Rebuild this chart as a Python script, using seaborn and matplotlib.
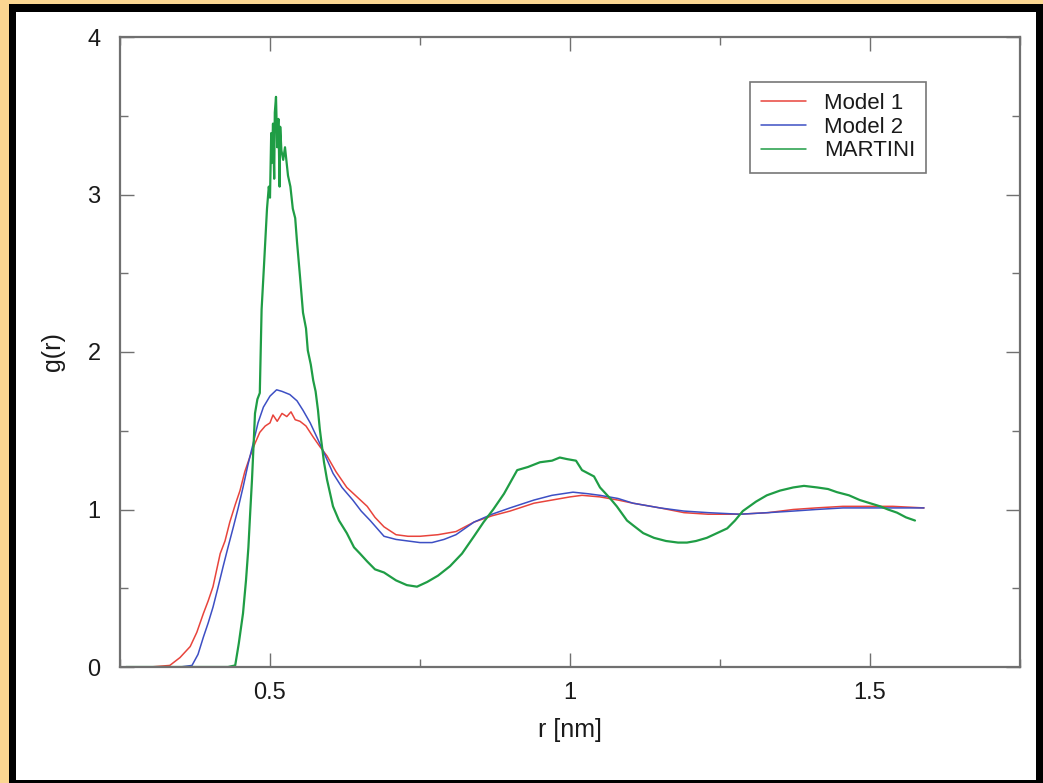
#!/usr/bin/env python
# g(r) comparison: Model 1, Model 2 and MARTINI

import numpy as np
import pandas as pd
import matplotlib
matplotlib.use("Agg")
import matplotlib.pyplot as plt
from matplotlib.patches import Rectangle
from matplotlib.ticker import FixedLocator, MultipleLocator
import seaborn as sns

sns.set_theme(style="ticks")
plt.rcParams['font.family'] = ['Liberation Sans', 'DejaVu Sans']

# Data
# ========================
r_model1 = [0.26, 0.30, 0.333, 0.35, 0.367, 0.378, 0.389, 0.397, 0.405, 0.417, 0.425, 0.433, 0.442,
            0.45, 0.458, 0.467, 0.475, 0.483, 0.492, 0.50, 0.505, 0.512, 0.52, 0.528, 0.535, 0.542,
            0.55, 0.56, 0.572, 0.583, 0.595, 0.61, 0.628, 0.645, 0.662, 0.675, 0.69, 0.71, 0.73,
            0.75, 0.78, 0.81, 0.84, 0.87, 0.90, 0.94, 0.97, 1.00, 1.02, 1.05, 1.08, 1.105, 1.15,
            1.19, 1.23, 1.283, 1.33, 1.372, 1.41, 1.455, 1.50, 1.538, 1.59]
g_model1 = [0.0, 0.0, 0.01, 0.06, 0.13, 0.22, 0.34, 0.42, 0.51, 0.72, 0.80, 0.92, 1.03,
            1.12, 1.24, 1.34, 1.42, 1.49, 1.53, 1.55, 1.60, 1.56, 1.61, 1.59, 1.62, 1.57,
            1.56, 1.53, 1.46, 1.40, 1.34, 1.24, 1.14, 1.08, 1.02, 0.95, 0.89, 0.84, 0.83,
            0.83, 0.84, 0.86, 0.92, 0.96, 0.99, 1.04, 1.06, 1.08, 1.09, 1.08, 1.06, 1.04, 1.01,
            0.98, 0.97, 0.97, 0.98, 1.00, 1.01, 1.02, 1.02, 1.02, 1.01]

r_model2 = [0.26, 0.30, 0.35, 0.37, 0.38, 0.389, 0.397, 0.405, 0.413, 0.422, 0.43, 0.439, 0.447,
            0.455, 0.463, 0.472, 0.48, 0.489, 0.50, 0.511, 0.52, 0.533, 0.545, 0.555, 0.567,
            0.578, 0.59, 0.605, 0.62, 0.638, 0.652, 0.667, 0.69, 0.71, 0.73, 0.75, 0.77, 0.79,
            0.81, 0.84, 0.87, 0.90, 0.94, 0.97, 1.005, 1.03, 1.05, 1.08, 1.105, 1.15, 1.19,
            1.23, 1.283, 1.33, 1.372, 1.41, 1.455, 1.50, 1.538, 1.59]
g_model2 = [0.0, 0.0, 0.0, 0.01, 0.08, 0.19, 0.28, 0.38, 0.50, 0.64, 0.76, 0.89, 1.01,
            1.14, 1.28, 1.42, 1.55, 1.65, 1.72, 1.76, 1.75, 1.73, 1.69, 1.63, 1.55,
            1.46, 1.36, 1.23, 1.14, 1.06, 0.99, 0.93, 0.83, 0.81, 0.80, 0.79, 0.79, 0.81,
            0.84, 0.92, 0.97, 1.01, 1.06, 1.09, 1.11, 1.10, 1.09, 1.07, 1.04, 1.01, 0.99,
            0.98, 0.97, 0.98, 0.99, 1.00, 1.01, 1.01, 1.01, 1.01]

r_martini = [0.26, 0.35, 0.43, 0.442, 0.448, 0.455, 0.46, 0.464, 0.467, 0.47, 0.475, 0.479, 0.483,
             0.486, 0.49, 0.495, 0.498, 0.50, 0.502, 0.503, 0.505, 0.507, 0.508, 0.51, 0.512,
             0.514, 0.516, 0.517, 0.519, 0.522, 0.525, 0.53, 0.534, 0.538, 0.542, 0.545, 0.55,
             0.555, 0.56, 0.563, 0.568, 0.572, 0.576, 0.58, 0.583, 0.59, 0.595, 0.605, 0.615,
             0.628, 0.64, 0.65, 0.662, 0.675, 0.69, 0.71, 0.728, 0.745, 0.762, 0.78, 0.80, 0.82,
             0.84, 0.856, 0.872, 0.89, 0.912, 0.93, 0.95, 0.97, 0.983, 0.995, 1.01, 1.02, 1.04,
             1.05, 1.067, 1.078, 1.095, 1.105, 1.122, 1.14, 1.16, 1.18, 1.195, 1.21, 1.228,
             1.245, 1.262, 1.275, 1.288, 1.31, 1.328, 1.35, 1.372, 1.39, 1.412, 1.43, 1.445,
             1.465, 1.483, 1.50, 1.517, 1.53, 1.545, 1.56, 1.575]
g_martini = [0.0, 0.0, 0.0, 0.01, 0.15, 0.34, 0.55, 0.76, 0.98, 1.19, 1.61, 1.70, 1.74,
             2.27, 2.55, 2.91, 3.05, 2.98, 3.39, 3.20, 3.45, 3.10, 3.52, 3.62, 3.30,
             3.48, 3.05, 3.43, 3.28, 3.22, 3.30, 3.12, 3.05, 2.91, 2.85, 2.70, 2.48,
             2.25, 2.15, 2.01, 1.92, 1.82, 1.75, 1.63, 1.51, 1.30, 1.19, 1.02, 0.93,
             0.85, 0.76, 0.72, 0.67, 0.62, 0.60, 0.55, 0.52, 0.51, 0.54, 0.58, 0.64, 0.72,
             0.83, 0.92, 1.00, 1.10, 1.25, 1.27, 1.30, 1.31, 1.33, 1.32, 1.31, 1.25, 1.21,
             1.14, 1.07, 1.02, 0.93, 0.90, 0.85, 0.82, 0.80, 0.79, 0.79, 0.80, 0.82,
             0.85, 0.88, 0.93, 0.99, 1.05, 1.09, 1.12, 1.14, 1.15, 1.14, 1.13, 1.11,
             1.09, 1.06, 1.04, 1.02, 1.00, 0.98, 0.95, 0.93]

labels = ["Model 1", "Model 2", "MARTINI"]
colors = {"Model 1": "#e8443c", "Model 2": "#3d4fc4", "MARTINI": "#1f9d45"}
x_ticks = [0.5, 1.0, 1.5]
x_ticklabels = ["0.5", "1", "1.5"]
y_ticks = [0, 1, 2, 3, 4]
y_ticklabels = ["0", "1", "2", "3", "4"]

df = pd.concat([
    pd.DataFrame({"r": r_model1, "g": g_model1, "model": labels[0]}),
    pd.DataFrame({"r": r_model2, "g": g_model2, "model": labels[1]}),
    pd.DataFrame({"r": r_martini, "g": g_martini, "model": labels[2]}),
], ignore_index=True)

########################################################################
W, H = 1043, 783
fig = plt.figure(figsize=(W / 100, H / 100), dpi=100, facecolor="#fbd691")
# black frame and white page
fig.add_artist(Rectangle((9 / W, 0), 1 - 9 / W, 1 - 4 / H, transform=fig.transFigure,
                         facecolor="black", edgecolor="none", zorder=0))
fig.add_artist(Rectangle((16 / W, 3 / H), 1020 / W, 768 / H, transform=fig.transFigure,
                         facecolor="white", edgecolor="none", zorder=0))

ax = fig.add_axes([120 / W, (H - 667) / H, 900 / W, 630 / H])
ax.set_facecolor("white")

sns.lineplot(data=df, x="r", y="g", hue="model", palette=colors, hue_order=labels,
             estimator=None, linewidth=1.1, ax=ax)
# the MARTINI trace is noisier, so it reads heavier in the original
ax.get_lines()[2].set_linewidth(1.6)

ax.set_xlim(0.25, 1.75)
ax.set_ylim(0, 4)
ax.xaxis.set_major_locator(FixedLocator(x_ticks))
ax.set_xticklabels(x_ticklabels)
ax.xaxis.set_minor_locator(MultipleLocator(0.25))
ax.yaxis.set_major_locator(FixedLocator(y_ticks))
ax.set_yticklabels(y_ticklabels)
ax.yaxis.set_minor_locator(MultipleLocator(0.5))

for s in ax.spines.values():
    s.set_color("#707070")
    s.set_linewidth(1.6)
ax.tick_params(which="both", direction="in", top=True, right=True, colors="#707070",
               labelcolor="#1a1a1a", labelsize=17)
ax.tick_params(which="major", length=10, width=1.0)
ax.tick_params(which="minor", length=6, width=1.0)
ax.tick_params(axis="y", pad=14)
ax.tick_params(axis="x", pad=11)

ax.set_xlabel("r [nm]", fontsize=18, color="#1a1a1a", labelpad=10)
ax.set_ylabel("g(r)", fontsize=18, color="#1a1a1a", labelpad=16)

leg = ax.legend(loc="upper right", bbox_to_anchor=(0.8956, 0.9286), borderaxespad=0,
                fontsize=16, frameon=True, fancybox=False, handlelength=2.0,
                labelspacing=0.12, handletextpad=0.8, borderpad=0.5)
leg.get_frame().set_edgecolor("#555555")
leg.get_frame().set_linewidth(1.2)
for t in leg.get_texts():
    t.set_color("#1a1a1a")

fig.savefig("out.png", dpi=100, facecolor=fig.get_facecolor())
plt.close()
